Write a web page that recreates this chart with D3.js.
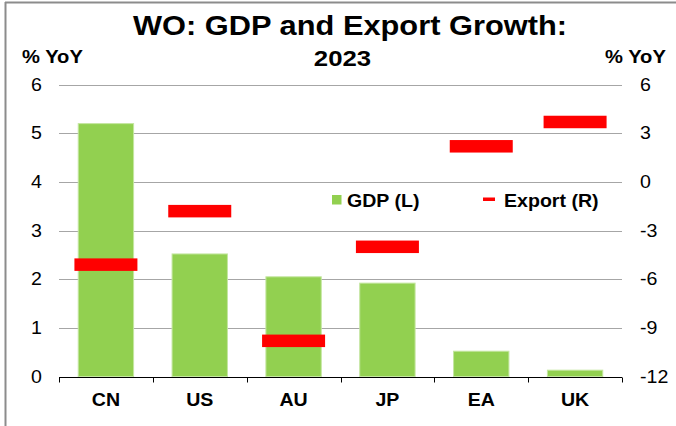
<!DOCTYPE html>
<html><head><meta charset="utf-8">
<script src="https://cdn.jsdelivr.net/npm/d3@7/dist/d3.min.js"></script>
<style>html,body{margin:0;padding:0;background:#fff;}svg{display:block;font-family:"Liberation Sans",Arial,sans-serif;}</style>
</head><body>
<script>
const categories = ["CN","US","AU","JP","EA","UK"];
const gdp = [5.2, 2.52, 2.05, 1.92, 0.52, 0.13];
const exportGrowth = [-5.1, -1.8, -9.8, -4.0, 2.2, 3.7];
const leftTicks = [0,1,2,3,4,5,6];
const rightTicks = [-12,-9,-6,-3,0,3,6];

const W = 676, H = 426;
const SX = 1.12; // horizontal text stretch
const svg = d3.select("body").append("svg").attr("width", W).attr("height", H);

function txt(g, x, y, s, size, bold, anchor) {
  return g.append("text")
    .attr("transform", `translate(${x},${y}) scale(${SX},1)`)
    .attr("font-size", size).attr("font-weight", bold ? "bold" : "normal")
    .attr("text-anchor", anchor || "start").attr("fill", "#000").text(s);
}

// border
svg.append("line").attr("x1",5.5).attr("x2",5.5).attr("y1",2).attr("y2",H).attr("stroke","#8c8c8c").attr("stroke-width",2);
svg.append("line").attr("x1",5).attr("x2",W).attr("y1",2.5).attr("y2",2.5).attr("stroke","#8c8c8c").attr("stroke-width",2);

const x = d3.scaleBand().domain(categories).range([59, 622]).paddingInner(0.41).paddingOuter(0.205);
const xb = d3.scaleBand().domain(categories).range([59, 622]);
const yL = d3.scaleLinear().domain([0, 6]).range([376.5, 84.7]);
const yR = d3.scaleLinear().domain([-12, 6]).range([376.5, 84.7]);

// gridlines
svg.append("g").selectAll("line").data(leftTicks.filter(d=>d>0)).join("line")
  .attr("x1",59).attr("x2",622).attr("y1",d=>Math.round(yL(d))+0.5).attr("y2",d=>Math.round(yL(d))+0.5)
  .attr("stroke","#a6a6a6").attr("stroke-width",1);

// bars
svg.append("g").selectAll("rect").data(categories).join("rect")
  .attr("x",(d,i)=>x(d)).attr("width",x.bandwidth())
  .attr("y",(d,i)=>yL(gdp[i])).attr("height",(d,i)=>yL(0)-yL(gdp[i]))
  .attr("fill","#92d050").attr("stroke","#c4e6a0").attr("stroke-width",1);

// export markers
const mw = 63, mh = 12.5;
svg.append("g").selectAll("rect").data(categories).join("rect")
  .attr("x",d=>xb(d)+xb.bandwidth()/2-mw/2).attr("width",mw)
  .attr("y",(d,i)=>yR(exportGrowth[i])-mh/2).attr("height",mh)
  .attr("fill","#ff0000");

// x axis
const gx = svg.append("g").attr("transform",`translate(0,${Math.round(yL(0))+0.5})`);
gx.append("line").attr("x1",59).attr("x2",622).attr("stroke","#000").attr("stroke-width",1);
const bounds = categories.map(d=>xb(d)).concat([622]);
gx.selectAll("line.tk").data(bounds).join("line").attr("class","tk")
  .attr("x1",d=>Math.round(d)+0.5).attr("x2",d=>Math.round(d)+0.5).attr("y1",0).attr("y2",5)
  .attr("stroke","#000");
categories.forEach(d => txt(gx, xb(d)+xb.bandwidth()/2, 28, d, 17.5, true, "middle"));

// axis labels
const gl = svg.append("g");
leftTicks.forEach(d => txt(gl, 42, yL(d)+6, String(d), 17.5, false, "end"));
const gr = svg.append("g");
rightTicks.forEach(d => txt(gr, 640, yR(d)+6, String(d), 17.5, false, "start"));

// unit labels
txt(svg, 22, 63, "% YoY", 18, true);
txt(svg, 605, 63, "% YoY", 18, true);

// title
txt(svg, 350, 35, "WO: GDP and Export Growth:", 27.5, true, "middle");
txt(svg, 342.5, 66, "2023", 23, true, "middle");

// legend
svg.append("rect").attr("x",332).attr("y",195).attr("width",9.5).attr("height",9.5).attr("fill","#92d050");
txt(svg, 347, 206.5, "GDP (L)", 17.5, true);
svg.append("rect").attr("x",483).attr("y",197.5).attr("width",12).attr("height",3.5).attr("fill","#ff0000");
txt(svg, 504, 206.5, "Export (R)", 17.5, true);
</script>
</body></html>
